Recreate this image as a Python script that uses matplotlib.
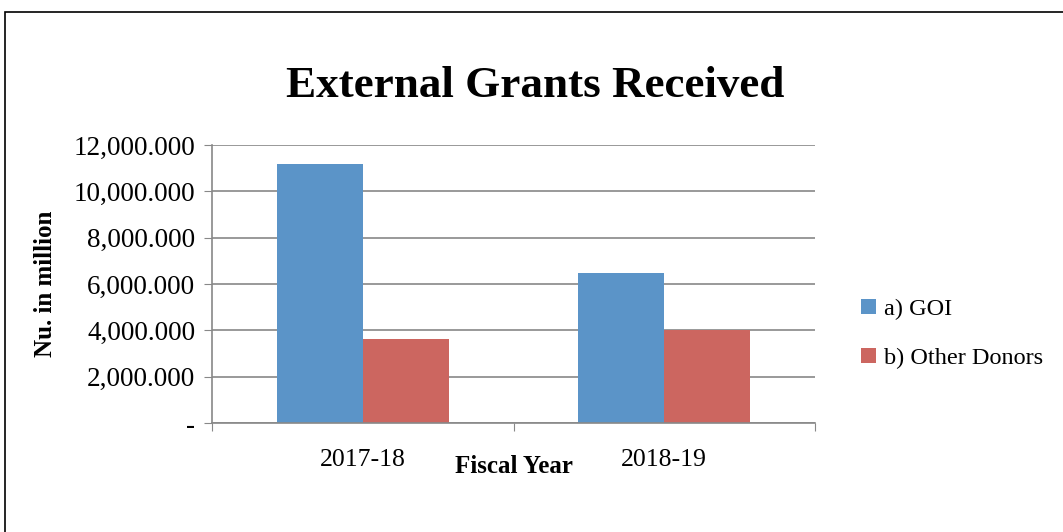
import matplotlib
matplotlib.use("Agg")
import matplotlib.pyplot as plt
import numpy as np
from matplotlib.ticker import FuncFormatter
from matplotlib.patches import Rectangle

# values
years = ['2017-18', '2018-19']
goi = [11200, 6480]
other_donors = [3630, 4020]

plt.rcParams['font.family'] = ['Liberation Serif', 'DejaVu Serif']

fig = plt.figure(figsize=(10.63, 5.32), dpi=100)
ax = fig.add_axes([212 / 1063, 1 - 423 / 532, (815 - 212) / 1063, (423 - 145) / 532])

# frame round the whole chart
fig.patches.append(Rectangle((5 / 1063, -0.1), 1.2, 1 - 12 / 532 + 0.1, transform=fig.transFigure,
                             fill=False, edgecolor='black', linewidth=1.2))

x = np.arange(len(years))
w = 0.285
ax.bar(x - w / 2, goi, w, color='#5b94c8', label='a) GOI')
ax.bar(x + w / 2, other_donors, w, color='#cc6660', label='b) Other Donors')

ax.set_xlim(-0.5, 1.5)
ax.set_ylim(0, 12000)
ax.set_yticks(range(0, 12001, 2000))


def fmt(v, pos):
    if v == 0:
        return '-'
    return f'{int(v):,}.000'


ax.yaxis.set_major_formatter(FuncFormatter(fmt))
ax.set_xticks([-0.5, 0.5, 1.5])
ax.set_xticklabels([])
ax.set_xticks(x, minor=True)
ax.set_xticklabels(years, minor=True)
ax.tick_params(axis='x', which='minor', length=0, labelsize=18.5, pad=19)
ax.tick_params(axis='x', which='major', length=6, color='#888888')
ax.tick_params(axis='y', length=6, color='#888888', labelsize=19.5, pad=6)

ax.grid(axis='y', color='#888888', linewidth=1.2)
ax.set_axisbelow(True)
for s in ['top', 'right']:
    ax.spines[s].set_visible(False)
for s in ['left', 'bottom']:
    ax.spines[s].set_color('#888888')
    ax.spines[s].set_linewidth(1.2)

ax.set_ylabel('Nu. in million', fontsize=18, fontweight='bold', labelpad=12)
ax.set_xlabel('Fiscal Year', fontsize=18, fontweight='bold', labelpad=-12)

fig.text(535 / 1063, 1 - 86 / 532, 'External Grants Received', fontsize=32.5, fontweight='bold',
         ha='center', va='center')

ax.legend(loc='center left', bbox_to_anchor=(1.04, 0.32), frameon=False, fontsize=17.5,
          handlelength=0.6, handleheight=0.6, handletextpad=0.35, labelspacing=1.15)

fig.savefig('out.png', dpi=100)
